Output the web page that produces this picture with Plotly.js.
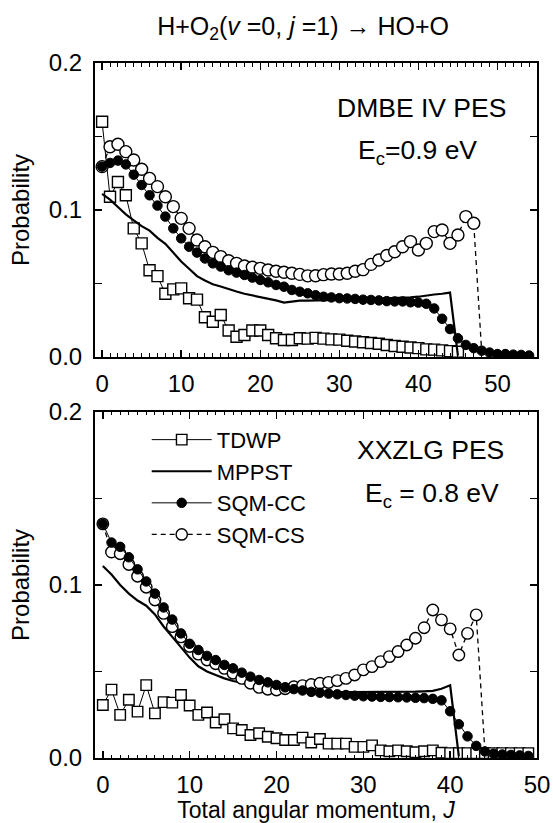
<!DOCTYPE html>
<html>
<head>
<meta charset="utf-8">
<script src="https://cdn.plot.ly/plotly-3.0.1.min.js"></script>
<style>html,body{margin:0;padding:0;background:#fff;}#chart{width:553px;height:823px;}</style>
</head>
<body>
<div id="chart"></div>
<script>
// ---- Top panel: DMBE IV PES, Ec = 0.9 eV (values indexed by J = 0,1,2,...) ----
const topTDWP = [0.160,0.109,0.119,0.110,0.0875,0.0773,0.059,0.055,0.043,0.046,
  0.0467,0.040,0.039,0.027,0.024,0.0286,0.018,0.0138,0.015,0.018,
  0.018,0.015,0.0127,0.0116,0.0116,0.0127,0.0125,0.013,0.0125,0.012,
  0.0118,0.011,0.0105,0.010,0.0095,0.009,0.0082,0.0075,0.007,0.0065,
  0.006,0.0052,0.005,0.0045,0.004,0.0036];
const topMPPST = [0.111,0.107,0.102,0.097,0.093,0.089,0.086,0.081,0.077,0.071,
  0.065,0.060,0.055,0.052,0.0495,0.048,0.046,0.0445,0.043,0.042,
  0.041,0.040,0.0385,0.037,0.0378,0.0383,0.0383,0.0385,0.0385,0.0387,
  0.0388,0.039,0.039,0.0392,0.0393,0.0395,0.0396,0.0398,0.040,0.0405,
  0.041,0.042,0.0425,0.043,0.0438,0.001];
const topCC = [0.1295,0.132,0.1336,0.131,0.124,0.117,0.110,0.103,0.0955,0.0875,
  0.0807,0.075,0.071,0.067,0.0637,0.0615,0.059,0.0574,0.0558,0.054,
  0.0524,0.0508,0.049,0.0478,0.0456,0.0444,0.0433,0.042,0.041,0.0405,
  0.040,0.0398,0.0395,0.039,0.0388,0.0385,0.038,0.0378,0.0378,0.0372,
  0.037,0.0362,0.033,0.026,0.019,0.0127,0.0082,0.006,0.0043,0.003,
  0.002,0.002,0.0016,0.0014,0.001];
const topCS = [0.1295,0.143,0.1447,0.1397,0.134,0.1277,0.1215,0.1159,0.109,0.1023,
  0.0943,0.0875,0.0796,0.075,0.0712,0.0683,0.0655,0.0637,0.0619,0.061,
  0.0603,0.0592,0.0583,0.0576,0.057,0.0562,0.0552,0.0553,0.056,0.0565,
  0.0565,0.057,0.0583,0.0594,0.063,0.066,0.069,0.0716,0.075,0.0785,
  0.0728,0.0773,0.0853,0.0864,0.0773,0.083,0.0955,0.091,0.004];

// ---- Bottom panel: XXZLG PES, Ec = 0.8 eV ----
const botTDWP = [0.0306,0.0395,0.0249,0.0337,0.0268,0.0421,0.0258,0.0323,0.032,0.0364,
  0.0303,0.0249,0.0263,0.0205,0.0224,0.0171,0.0162,0.0133,0.0143,0.0123,
  0.0114,0.0104,0.0104,0.0118,0.009,0.011,0.0083,0.0083,0.0083,0.0064,
  0.0064,0.0073,0.0044,0.0039,0.0044,0.0039,0.0033,0.0039,0.0044,0.003,
  0.0028,0.0028,0.0028,0.0028,0.0028,0.0028,0.0028,0.0028,0.0028,0.0028];
const botMPPST = [0.111,0.106,0.100,0.095,0.091,0.088,0.083,0.076,0.070,0.064,
  0.058,0.053,0.050,0.048,0.046,0.0445,0.0435,0.042,0.041,0.0405,
  0.040,0.0395,0.039,0.0385,0.0383,0.038,0.038,0.038,0.038,0.038,
  0.038,0.038,0.038,0.038,0.038,0.0382,0.0383,0.0385,0.0388,0.040,
  0.042,0.001];
const botCC = [0.1353,0.1245,0.122,0.116,0.109,0.102,0.095,0.087,0.080,0.072,
  0.066,0.0624,0.059,0.0566,0.0538,0.0518,0.0493,0.047,0.0451,0.0437,
  0.0422,0.0408,0.0398,0.039,0.0382,0.0377,0.0372,0.0368,0.0364,0.036,
  0.0357,0.0355,0.0353,0.0352,0.0351,0.035,0.0348,0.0346,0.0342,0.0333,
  0.027,0.0195,0.0125,0.007,0.0038,0.0025,0.002,0.0018,0.0015,0.0012];
const botCS = [0.1353,0.119,0.118,0.1118,0.105,0.0987,0.0913,0.0836,0.0759,0.070,
  0.0644,0.060,0.0566,0.0545,0.0518,0.049,0.046,0.0432,0.0408,0.0397,
  0.0393,0.040,0.0412,0.0418,0.0425,0.0432,0.0437,0.0447,0.046,0.048,
  0.0509,0.0528,0.0557,0.0586,0.0615,0.0653,0.0692,0.0753,0.0855,0.0798,
  0.0746,0.0595,0.072,0.0827,0.004];

const seriesNames = ['TDWP','MPPST','SQM-CC','SQM-CS'];
const panelLabels = [['DMBE IV PES','E<sub>c</sub>=0.9 eV'],['XXZLG PES','E<sub>c</sub> = 0.8 eV']];

const FONT = 'Liberation Sans, Arial, Helvetica, sans-serif';
const jIdx = arr => arr.map((_, i) => i);

function panelTraces(tdwp, mppst, cc, cs, xa, ya, legend, sq, oc, fc) {
  const csSizes = cs.map((_, i) => i === cs.length - 1 ? 0 : oc);
  return [
    {x: jIdx(tdwp), y: tdwp, xaxis: xa, yaxis: ya, name: seriesNames[0], showlegend: legend,
     mode: 'lines+markers', line: {color: '#000', width: 1},
     marker: {symbol: 'square', size: sq, color: '#fff', opacity: 1, line: {color: '#000', width: 1.4}}},
    {x: jIdx(mppst), y: mppst, xaxis: xa, yaxis: ya, name: seriesNames[1], showlegend: legend,
     mode: 'lines', line: {color: '#000', width: 2.2}},
    {x: jIdx(cs), y: cs, xaxis: xa, yaxis: ya, name: seriesNames[3], showlegend: legend,
     mode: 'lines+markers', line: {color: '#000', width: 1.3, dash: '5px,4px'},
     marker: {symbol: 'circle', size: csSizes, color: '#fff', opacity: 1, line: {color: '#000', width: 1.4}}},
    {x: jIdx(cc), y: cc, xaxis: xa, yaxis: ya, name: seriesNames[2], showlegend: legend,
     mode: 'lines+markers', line: {color: '#000', width: 1},
     marker: {symbol: 'circle', size: fc, color: '#000', opacity: 1, line: {color: '#000', width: 1}}}
  ];
}

const data = [
  ...panelTraces(topTDWP, topMPPST, topCC, topCS, 'x2', 'y2', false, 11, 12, 9.5),
  ...panelTraces(botTDWP, botMPPST, botCC, botCS, 'x', 'y', true, 10.5, 11.5, 9.5)
];
// legend order: TDWP, MPPST, SQM-CC, SQM-CS
data.forEach(t => { t.legendrank = seriesNames.indexOf(t.name); });

const tickFont = {family: FONT, size: 24, color: '#000'};
function xAxis(range, anchor, title) {
  const ax = {
    anchor: anchor, domain: [0, 1], range: range,
    showline: true, linewidth: 2, linecolor: '#000', mirror: 'ticks',
    ticks: 'inside', ticklen: 7, tickwidth: 1.5, tickcolor: '#000',
    dtick: 10, tick0: 0, tickfont: tickFont, ticklabelstandoff: 4,
    minor: {ticks: 'inside', ticklen: 3.5, tickwidth: 1, tickcolor: '#000', dtick: 1, tick0: 0},
    showgrid: false, zeroline: false
  };
  if (title) ax.title = {text: title, font: {family: FONT, size: 23, color: '#000'}, standoff: 14};
  return ax;
}
function yAxis(domain, anchor) {
  return {
    anchor: anchor, domain: domain, range: [0, 0.2],
    showline: true, linewidth: 2, linecolor: '#000', mirror: 'ticks',
    ticks: 'inside', ticklen: 7, tickwidth: 1.5, tickcolor: '#000',
    dtick: 0.1, tick0: 0, tickformat: '.1f', tickfont: tickFont, ticklabelstandoff: 6,
    minor: {ticks: 'inside', ticklen: 7, tickwidth: 1.5, tickcolor: '#000', dtick: 0.05, tick0: 0},
    showgrid: false, zeroline: false,
    title: {text: 'Probability', font: {family: FONT, size: 24, color: '#000'}, standoff: 12}
  };
}

const annFont = {family: FONT, size: 26.5, color: '#000'};
const layout = {
  width: 553, height: 823,
  margin: {l: 95, r: 16, t: 63, b: 65},
  paper_bgcolor: '#fff', plot_bgcolor: '#fff',
  font: {family: FONT, color: '#000'},
  title: {text: 'H+O<sub>2</sub>(<i>v</i> =0, <i>j</i> =1) → HO+O',
          font: {family: FONT, size: 25, color: '#000'},
          x: 0.548, xref: 'container', xanchor: 'center', y: 0.968, yref: 'container', yanchor: 'middle'},
  xaxis: xAxis([-0.9, 50], 'y', 'Total angular momentum, <i>J</i>'),
  yaxis: yAxis([0, 0.498], 'x'),
  xaxis2: xAxis([-0.9, 55], 'y2', null),
  yaxis2: yAxis([0.577, 1], 'x2'),
  showlegend: true,
  legend: {x: 0.117, y: 0.488, xanchor: 'left', yanchor: 'top', bgcolor: 'rgba(0,0,0,0)',
           font: {family: FONT, size: 22, color: '#000'}, itemwidth: 60, tracegroupgap: 0,
           traceorder: 'normal'},
  annotations: [
    {text: panelLabels[0][0], xref: 'paper', yref: 'paper', x: 0.739, y: 0.935, xanchor: 'center', yanchor: 'middle', showarrow: false, font: annFont},
    {text: panelLabels[0][1], xref: 'paper', yref: 'paper', x: 0.729, y: 0.872, xanchor: 'center', yanchor: 'middle', showarrow: false, font: annFont},
    {text: panelLabels[1][0], xref: 'paper', yref: 'paper', x: 0.758, y: 0.443, xanchor: 'center', yanchor: 'middle', showarrow: false, font: annFont},
    {text: panelLabels[1][1], xref: 'paper', yref: 'paper', x: 0.762, y: 0.378, xanchor: 'center', yanchor: 'middle', showarrow: false, font: annFont}
  ]
};

Plotly.newPlot('chart', data, layout, {displayModeBar: false, staticPlot: true});
</script>
</body>
</html>
